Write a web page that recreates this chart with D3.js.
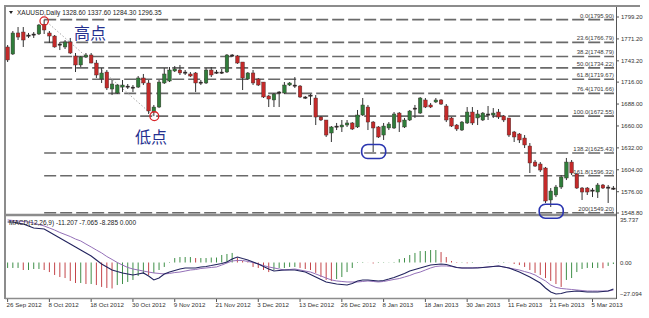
<!DOCTYPE html>
<html>
<head>
<meta charset="utf-8">
<script src="https://cdn.jsdelivr.net/npm/d3@7"></script>
<style>
  body { margin: 0; background: #fff; }
  svg text { font-family: "Liberation Sans", Arial, sans-serif; }
</style>
</head>
<body>
<div id="chart-container"></div>
<script>
// daily candles XAUUSD, 26 Sep 2012 .. Mar 2013
const opens = [1760.9,1751.9,1778.8,1780.0,1774.9,1776.2,1777.5,1790.0,1778.8,1774.9,
  1763.4,1760.9,1767.3,1749.4,1737.9,1748.1,1750.7,1740.4,1720.0,1728.9,
  1707.2,1702.1,1709.7,1709.7,1708.5,1709.7,1721.3,1714.9,1677.8,1684.2,
  1714.9,1717.4,1730.2,1731.5,1727.7,1726.4,1727.7,1714.9,1714.9,1731.5,
  1727.7,1727.7,1728.9,1749.4,1749.4,1741.7,1720.0,1727.7,1720.0,1716.1,
  1698.3,1693.2,1702.1,1702.1,1712.3,1711.0,1711.0,1695.7,1698.3,1695.7,
  1671.4,1667.6,1651.0,1658.7,1658.7,1661.2,1663.8,1658.7,1674.0,1684.2,
  1665.0,1658.7,1648.4,1657.4,1657.4,1676.5,1658.7,1667.6,1681.7,1676.5,
  1693.2,1686.8,1690.6,1693.2,1685.5,1670.2,1661.2,1654.8,1663.8,1677.8,
  1670.2,1667.6,1674.0,1674.0,1677.8,1672.7,1670.2,1652.3,1649.7,1644.6,
  1634.4,1613.9,1611.4,1606.3,1565.4,1571.8,1582.0,1593.5,1613.9,1598.6,
  1580.7,1580.7,1578.2,1575.6,1584.6,1580.7,1580.7];
const highs = [1763.4,1781.3,1786.4,1786.4,1778.8,1780.0,1790.3,1795.9,1781.3,1776.2,
  1767.3,1769.8,1772.4,1753.2,1749.4,1753.2,1753.2,1744.3,1734.0,1731.5,
  1718.7,1713.6,1718.7,1713.6,1712.3,1723.8,1726.4,1718.7,1686.8,1718.7,
  1734.0,1735.3,1736.6,1737.9,1731.5,1728.9,1728.9,1718.7,1734.0,1735.3,
  1731.5,1732.8,1751.9,1751.9,1750.7,1741.7,1728.9,1731.5,1721.3,1716.1,
  1699.5,1702.1,1704.6,1716.1,1716.1,1722.5,1712.3,1698.3,1700.8,1699.5,
  1672.7,1667.6,1659.9,1663.8,1667.6,1667.6,1665.0,1680.4,1695.7,1686.8,
  1666.3,1659.9,1663.8,1665.0,1677.8,1677.8,1670.2,1680.4,1686.8,1697.0,
  1695.7,1689.3,1695.7,1694.4,1688.0,1671.4,1662.5,1666.3,1684.2,1684.2,
  1680.4,1677.8,1685.5,1682.9,1681.7,1674.0,1670.2,1653.6,1651.0,1648.4,
  1638.2,1616.5,1613.9,1607.6,1580.7,1584.6,1597.3,1619.1,1616.5,1599.9,
  1582.0,1582.0,1580.7,1587.1,1585.9,1584.6,1583.3];
const lows = [1741.7,1750.7,1769.8,1760.9,1772.4,1772.4,1776.2,1777.5,1766.0,1760.0,
  1757.0,1758.3,1751.9,1728.9,1735.3,1746.8,1740.0,1721.3,1714.9,1705.9,
  1699.5,1700.8,1703.4,1707.2,1703.4,1708.5,1712.3,1675.3,1672.55,1682.9,
  1713.6,1716.1,1728.9,1725.1,1725.1,1722.5,1703.4,1712.3,1713.6,1722.5,
  1726.4,1726.4,1727.7,1748.1,1739.2,1705.9,1718.7,1712.3,1711.0,1695.7,
  1684.2,1684.2,1684.2,1700.8,1711.0,1708.5,1695.7,1694.4,1686.8,1661.2,
  1666.3,1645.9,1639.5,1654.8,1652.3,1658.7,1654.8,1657.4,1672.7,1654.8,
  1626.7,1644.6,1642.1,1654.8,1656.1,1652.3,1657.4,1666.3,1670.2,1675.3,
  1682.9,1682.9,1689.3,1686.8,1665.0,1658.7,1653.6,1653.6,1662.5,1661.2,
  1661.2,1666.3,1667.6,1670.2,1668.9,1665.0,1645.9,1639.5,1638.2,1631.8,
  1599.9,1607.6,1601.2,1561.6,1556.5,1569.2,1579.5,1590.9,1597.3,1579.5,
  1565.4,1571.8,1569.2,1568.0,1579.5,1561.6,1578.2];
const closes = [1744.3,1778.8,1773.6,1769.8,1776.2,1777.5,1789.0,1782.6,1774.9,1760.9,
  1764.7,1767.3,1753.2,1737.9,1748.1,1750.7,1740.4,1725.1,1727.7,1708.5,
  1713.6,1712.3,1712.3,1711.0,1709.7,1721.3,1714.9,1679.1,1684.2,1716.1,
  1726.4,1731.5,1732.8,1727.7,1728.9,1723.8,1714.9,1716.1,1731.5,1725.1,
  1728.9,1728.9,1750.7,1750.7,1740.4,1721.3,1727.7,1714.9,1712.3,1697.0,
  1694.4,1700.8,1703.4,1712.3,1714.9,1712.3,1697.0,1697.0,1699.5,1671.4,
  1667.6,1648.4,1658.7,1659.9,1661.2,1663.8,1656.1,1674.0,1686.8,1665.0,
  1657.4,1645.9,1659.9,1662.5,1675.3,1665.0,1667.6,1679.1,1682.9,1695.7,
  1684.2,1684.2,1693.2,1688.0,1667.6,1659.9,1656.1,1665.0,1677.8,1663.8,
  1675.3,1676.5,1675.3,1676.5,1671.4,1667.6,1648.4,1645.9,1642.1,1635.7,
  1612.7,1608.8,1603.7,1564.1,1576.9,1582.0,1594.8,1613.9,1599.9,1580.7,
  1575.6,1575.6,1576.9,1584.6,1580.7,1582.0,1580.1];

// MACD(12,26,9) panel
const macdLine = [31.8,31.8,31.0,30.2,28.7,27.1,26.7,26.3,23.9,21.6,
  19.2,16.9,14.5,12.2,9.8,7.5,5.1,2.0,-1.2,-3.5,
  -5.9,-7.1,-8.2,-9.0,-9.8,-9.0,-8.2,-10.6,-13.7,-12.2,
  -9.0,-7.5,-6.3,-5.1,-4.3,-4.3,-4.3,-3.5,-3.1,-2.4,
  -1.6,-0.8,0.4,2.7,4.3,3.1,2.0,0.4,-1.2,-3.1,
  -5.1,-6.7,-6.3,-5.9,-5.9,-5.9,-6.7,-7.5,-9.4,-11.4,
  -13.3,-15.3,-16.1,-16.9,-17.3,-17.7,-16.5,-14.5,-13.7,-13.7,
  -14.1,-14.5,-14.1,-13.0,-11.8,-10.2,-8.6,-6.7,-5.5,-4.3,
  -3.1,-2.0,-1.6,-1.2,-1.6,-2.7,-3.9,-4.3,-4.3,-4.3,
  -4.3,-3.9,-3.5,-3.1,-2.7,-3.5,-4.3,-5.9,-7.5,-9.4,
  -11.4,-13.7,-16.1,-20.0,-23.2,-24.7,-24.3,-23.2,-22.8,-22.4,
  -22.8,-23.2,-23.2,-23.2,-22.8,-22.4,-20.8];
const signalLine = [33.4,33.0,32.6,32.2,31.8,31.0,29.8,28.7,27.1,25.5,
  23.6,22.0,20.4,18.4,16.9,14.5,12.2,9.8,7.5,4.7,
  2.4,0.0,-2.0,-3.9,-5.1,-5.9,-6.7,-7.5,-8.2,-8.6,
  -9.0,-8.6,-7.9,-7.5,-6.7,-5.9,-5.5,-4.7,-4.3,-3.9,
  -3.5,-2.0,-0.4,1.2,1.6,1.6,0.8,0.0,-1.2,-2.4,
  -3.5,-4.3,-5.1,-5.9,-5.5,-5.1,-5.9,-6.7,-7.5,-9.0,
  -10.6,-12.2,-13.7,-14.5,-14.9,-15.3,-15.3,-15.3,-14.9,-14.5,
  -14.9,-15.3,-14.9,-14.1,-13.3,-12.6,-11.4,-10.2,-8.6,-7.5,
  -5.9,-4.3,-3.1,-2.7,-2.7,-3.1,-3.9,-4.3,-4.3,-4.3,
  -3.9,-3.9,-3.5,-3.1,-2.7,-3.5,-4.3,-5.1,-5.9,-7.1,
  -8.2,-9.8,-12.2,-14.5,-17.7,-19.6,-20.4,-20.8,-21.2,-21.6,
  -22.0,-22.4,-22.4,-22.4,-22.4,-22.4,-21.6];
const histogram = [-4.3,-4.3,-4.3,-5.9,-5.9,-5.1,-5.1,-5.9,-7.5,-9.8,
  -11.4,-12.2,-14.5,-16.1,-16.1,-16.9,-16.9,-17.7,-19.2,-20.0,
  -20.4,-17.7,-16.9,-15.3,-13.7,-10.6,-9.0,-9.8,-8.2,-5.9,
  -3.5,0.4,3.5,4.3,4.3,4.3,3.5,3.5,3.5,3.9,
  3.9,5.9,6.7,7.5,3.5,1.2,-0.4,-3.5,-4.3,-5.9,
  -7.5,-5.9,-4.3,-4.3,-3.5,-3.5,-4.3,-5.1,-5.9,-8.2,
  -11.4,-13.7,-14.5,-13.0,-11.4,-7.5,-4.3,-0.4,0.4,0.1,
  -0.8,-0.4,-0.3,-0.2,0.4,2.7,3.5,5.9,7.5,9.0,
  9.0,9.8,9.8,8.2,4.3,1.2,-0.4,-0.3,-0.6,-0.4,
  0.0,0.1,0.2,0.1,0.2,0.4,0.1,-1.2,-2.0,-3.5,
  -5.9,-8.2,-9.8,-12.2,-14.5,-16.9,-19.2,-13.7,-12.2,-7.5,
  -5.1,-4.3,-4.3,-4.3,-4.5,-2.7,-1.2];

// Fibonacci retracement / expansion
const fibLevels = ["0.0", "23.6", "38.2", "50.0", "61.8", "76.4", "100.0", "138.2", "161.8", "200"];
const fibPrices = [1795.90, 1766.79, 1748.79, 1734.22, 1719.67, 1701.66, 1672.55, 1625.43, 1596.32, 1549.20];
const highBar = 7, lowBar = 28;

// axis labels
const priceTicks = [1799.20, 1771.20, 1743.20, 1716.00, 1688.00, 1660.00, 1632.00, 1604.00, 1576.00, 1548.80];
const macdTicks = [35.737, 0, -27.094];
const dateTickBars = [0, 8, 16, 24, 32, 40, 48, 56, 64, 72, 80, 88, 96, 104, 112];
const dateTickLabels = ["26 Sep 2012", "8 Oct 2012", "18 Oct 2012", "30 Oct 2012", "9 Nov 2012",
  "21 Nov 2012", "3 Dec 2012", "13 Dec 2012", "26 Dec 2012", "8 Jan 2013", "18 Jan 2013",
  "30 Jan 2013", "11 Feb 2013", "21 Feb 2013", "5 Mar 2013"];

// layout
const W = 649, H = 318;
const left = 5, right = 616;
const mainTop = 17, mainBottom = 213;
const macdTop = 217, macdBottom = 297;

const svg = d3.select("#chart-container")
  .append("svg")
  .attr("width", W)
  .attr("height", H);

const N = closes.length;
const x = d3.scaleBand().domain(d3.range(N)).range([left, right]);
const cx = (i) => x(i) + x.bandwidth() / 2;
const y = d3.scaleLinear().domain([1548.8, 1799.2]).range([mainBottom, mainTop]);
const ym = d3.scaleLinear().domain([-27.094, 35.737]).range([macdBottom, macdTop]);

// frame
svg.append("line").attr("x1", 4).attr("x2", 640).attr("y1", 6).attr("y2", 6)
  .style("stroke", "#8c8c8c").style("stroke-width", 2);
svg.append("line").attr("x1", 5).attr("x2", 5).attr("y1", 5).attr("y2", 299)
  .style("stroke", "#8c8c8c").style("stroke-width", 2);
svg.append("line").attr("x1", 5).attr("x2", right).attr("y1", 215).attr("y2", 215)
  .style("stroke", "#8c8c8c").style("stroke-width", 2.5);
svg.append("line").attr("x1", 5).attr("x2", right).attr("y1", 298.5).attr("y2", 298.5)
  .style("stroke", "#8c8c8c").style("stroke-width", 1.5);
svg.append("line").attr("x1", right + 0.5).attr("x2", right + 0.5).attr("y1", 7).attr("y2", 299)
  .style("stroke", "#555").style("stroke-width", 1);

// fib levels
const fib = svg.append("g").attr("class", "fib");
fib.selectAll("line")
  .data(fibPrices)
  .join("line")
  .attr("x1", cx(highBar))
  .attr("x2", right - 2)
  .attr("y1", (d) => y(d))
  .attr("y2", (d) => y(d))
  .style("stroke", "#6a6a6a")
  .style("stroke-width", 1.6)
  .style("stroke-dasharray", "12,4");
fib.selectAll("text")
  .data(fibPrices)
  .join("text")
  .attr("x", right - 2)
  .attr("y", (d) => y(d) - 2)
  .attr("text-anchor", "end")
  .style("font-size", "6px")
  .style("fill", "#3a3a3a")
  .text((d, i) => fibLevels[i] + "(" + d.toFixed(2) + ")");

// dotted trend from high to low
svg.append("line")
  .attr("x1", cx(highBar)).attr("y1", y(highs[highBar]))
  .attr("x2", cx(lowBar)).attr("y2", y(lows[lowBar]))
  .style("stroke", "#a8a8a8")
  .style("stroke-width", 1)
  .style("stroke-dasharray", "1.5,2");

// candles
const candles = svg.append("g").attr("class", "candles")
  .selectAll("g")
  .data(d3.range(N))
  .join("g");
const bodyColor = (i) => {
  const diff = closes[i] - opens[i];
  if (Math.abs(diff) < 1.5) return "#2a2a2a";
  return diff > 0 ? "#2f7d3b" : "#c42a2a";
};
candles.append("line")
  .attr("x1", (i) => cx(i)).attr("x2", (i) => cx(i))
  .attr("y1", (i) => y(highs[i])).attr("y2", (i) => y(lows[i]))
  .style("stroke", "#333")
  .style("stroke-width", 1);
candles.append("rect")
  .attr("x", (i) => cx(i) - 1.8)
  .attr("width", 3.6)
  .attr("y", (i) => y(Math.max(opens[i], closes[i])))
  .attr("height", (i) => Math.max(1.2, Math.abs(y(opens[i]) - y(closes[i]))))
  .style("fill", bodyColor)
  .style("stroke", "#3a2a2a")
  .style("stroke-width", 0.4);

// high / low circles
svg.append("circle")
  .attr("cx", cx(highBar)).attr("cy", y(highs[highBar]) + 1.5).attr("r", 4.2)
  .style("fill", "none").style("stroke", "#d8262a").style("stroke-width", 1.3);
svg.append("circle")
  .attr("cx", cx(lowBar) + 0.5).attr("cy", y(lows[lowBar])).attr("r", 4.4)
  .style("fill", "none").style("stroke", "#d8262a").style("stroke-width", 1.3);

// blue boxes around the support touches
const boxes = [{ bar: 70, price: fibPrices[7] }, { bar: 104, price: fibPrices[9] }];
svg.selectAll(".touch-box")
  .data(boxes)
  .join("rect")
  .attr("class", "touch-box")
  .attr("x", (d) => cx(d.bar) - 11.5)
  .attr("y", (d) => y(d.price) - 8.5)
  .attr("width", 24)
  .attr("height", 14)
  .attr("rx", 6)
  .style("fill", "none")
  .style("stroke", "#2a35b0")
  .style("stroke-width", 1.6);

// chinese labels
svg.append("text")
  .attr("x", 74).attr("y", 39)
  .style("font-family", "'Noto Sans CJK SC', sans-serif")
  .style("font-size", "16px")
  .style("fill", "#25308f")
  .text("高点");
svg.append("text")
  .attr("x", 135).attr("y", 143)
  .style("font-family", "'Noto Sans CJK SC', sans-serif")
  .style("font-size", "16px")
  .style("fill", "#25308f")
  .text("低点");

// header
svg.append("path").attr("d", "M9,11 L13,11 L11,14 Z").style("fill", "#222");
svg.append("text")
  .attr("x", 17).attr("y", 15)
  .style("font-size", "6.5px")
  .style("fill", "#222")
  .text("XAUUSD,Daily  1328.60 1337.60 1284.30 1296.35");

// price axis
const pa = svg.append("g").attr("class", "price-axis");
pa.selectAll("line").data(priceTicks).join("line")
  .attr("x1", right).attr("x2", right + 3)
  .attr("y1", (d) => y(d)).attr("y2", (d) => y(d))
  .style("stroke", "#555");
pa.selectAll("text").data(priceTicks).join("text")
  .attr("x", right + 5).attr("y", (d) => y(d) + 2)
  .style("font-size", "6px").style("fill", "#333")
  .text((d) => d.toFixed(2));

// MACD histogram
svg.append("g").selectAll("line")
  .data(histogram)
  .join("line")
  .attr("x1", (d, i) => cx(i)).attr("x2", (d, i) => cx(i))
  .attr("y1", ym(0)).attr("y2", (d) => ym(d))
  .style("stroke", (d, i) => (i > 0 && d < histogram[i - 1] ? "#c4454a" : "#3f8f48"))
  .style("stroke-width", 1);

// MACD lines
const lineGen = d3.line().x((d, i) => cx(i)).y((d) => ym(d));
svg.append("path").datum(signalLine).attr("d", lineGen)
  .style("fill", "none").style("stroke", "#9470b8").style("stroke-width", 1);
svg.append("path").datum(macdLine).attr("d", lineGen)
  .style("fill", "none").style("stroke", "#22235e").style("stroke-width", 1.1);

svg.append("text")
  .attr("x", 9).attr("y", 225)
  .style("font-size", "6.5px").style("fill", "#222")
  .text("MACD(12,26,9) -11.207 -7.065 -8.285 0.000");

// MACD axis labels
const ma = svg.append("g");
ma.selectAll("text").data(macdTicks).join("text")
  .attr("x", right + 4)
  .attr("y", (d, i) => ym(d) + (i === 0 ? 5 : i === 2 ? -1 : 2))
  .style("font-size", "6px").style("fill", "#333")
  .text((d) => (d === 0 ? "0.00" : d3.format(".3f")(d)));

// date axis
const da = svg.append("g").attr("class", "date-axis");
da.selectAll("line").data(dateTickBars).join("line")
  .attr("x1", (d) => cx(d)).attr("x2", (d) => cx(d))
  .attr("y1", 299).attr("y2", 302)
  .style("stroke", "#555");
da.selectAll("text").data(dateTickBars).join("text")
  .attr("x", (d) => cx(d) - 1).attr("y", 307)
  .style("font-size", "6.2px").style("fill", "#333")
  .text((d, i) => dateTickLabels[i]);
</script>
</body>
</html>
